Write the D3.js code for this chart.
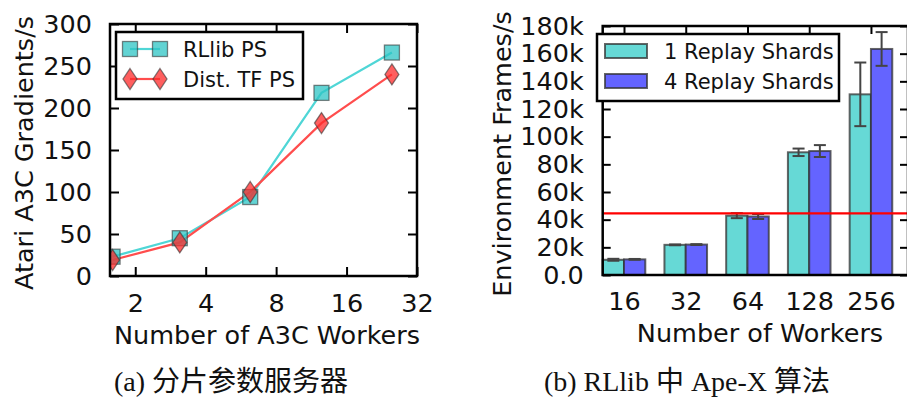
<!DOCTYPE html>
<html><head><meta charset="utf-8">
<script src="https://cdn.jsdelivr.net/npm/d3@7"></script>
<style>
body{margin:0;background:#fff;}
svg{display:block;}
text{font-family:"DejaVu Sans",sans-serif;fill:#111;}
.cap{font-family:"Liberation Serif","Noto Sans CJK SC",serif;}
</style></head><body>
<svg id="c" width="907" height="399"></svg>
<script>
// ---- Data: (a) sharded parameter server ----
const a3cWorkers = [1.6, 3.1, 6.2, 12.5, 25];
const rllibPS = [23, 45, 94, 218, 266];
const distTFPS = [19, 40, 100, 182, 240];
const aXTicks = [2, 4, 8, 16, 32];
const aYTicks = [0, 50, 100, 150, 200, 250, 300];
const aSeriesNames = ["RLlib PS", "Dist. TF PS"];

// ---- Data: (b) Ape-X in RLlib ----
const workerCounts = ["16", "32", "64", "128", "256"];
const shards1 = [11000, 21800, 42900, 88700, 130600];
const shards1Err = [700, 300, 1800, 2700, 23000];
const shards4 = [11300, 22000, 42300, 89600, 163400];
const shards4Err = [300, 300, 1800, 4300, 12200];
const refLine = 44600;
const bYTicks = [0, 20000, 40000, 60000, 80000, 100000, 120000, 140000, 160000, 180000];
const bYTickLabels = ["0.0", "20k", "40k", "60k", "80k", "100k", "120k", "140k", "160k", "180k"];
const bSeriesNames = ["1 Replay Shards", "4 Replay Shards"];

const svg = d3.select("#c");
const FS = 25.5, LFS = 21;

// ================= (a) =================
const aL = 110, aR = 417, aT = 24, aB = 276;
const xa = d3.scaleLog().base(2).domain([1.56, 32]).range([aL, aR]);
const ya = d3.scaleLinear().domain([0, 300]).range([aB, aT]);
const ga = svg.append("g");

const tickLen = 9;
const axL = d3.axisLeft(ya).tickValues(aYTicks).tickSize(-tickLen).tickPadding(tickLen + 9).tickFormat(d3.format("d"));
const axR = d3.axisRight(ya).tickValues(aYTicks).tickSize(-tickLen).tickFormat("");
const axB = d3.axisBottom(xa).tickValues(aXTicks).tickSize(-tickLen).tickPadding(tickLen + 9).tickFormat(d3.format("d"));
const axT = d3.axisTop(xa).tickValues(aXTicks).tickSize(-tickLen).tickFormat("");
function styleAxis(g){
  g.select(".domain").remove();
  g.selectAll(".tick line").attr("stroke","#000").attr("stroke-width",2);
  g.selectAll(".tick text").attr("font-size",FS).attr("font-family","DejaVu Sans").attr("fill","#111");
}
ga.append("g").attr("transform",`translate(${aL},0)`).call(axL).call(styleAxis);
ga.append("g").attr("transform",`translate(${aR},0)`).call(axR).call(styleAxis);
ga.append("g").attr("transform",`translate(0,${aB})`).call(axB).call(styleAxis);
ga.append("g").attr("transform",`translate(0,${aT})`).call(axT).call(styleAxis);

const clipA = svg.append("defs").append("clipPath").attr("id","clipA");
clipA.append("rect").attr("x",aL).attr("y",aT).attr("width",aR-aL).attr("height",aB-aT);

const plotA = ga.append("g").attr("clip-path","url(#clipA)");
const cyanLine = "#4fd6d6", redLine = "#ff4d4d";
const lineGen = d3.line().x((d,i)=>xa(a3cWorkers[i])).y(d=>ya(d));
plotA.append("path").datum(rllibPS).attr("d",lineGen).attr("fill","none").attr("stroke",cyanLine).attr("stroke-width",2.2);
plotA.append("path").datum(distTFPS).attr("d",lineGen).attr("fill","none").attr("stroke",redLine).attr("stroke-width",2.2);

const sq = 15;
function drawSquare(g, cx, cy){
  g.append("rect").attr("x",cx-sq/2).attr("y",cy-sq/2).attr("width",sq).attr("height",sq)
   .attr("fill","#2ec4c4").attr("fill-opacity",0.75).attr("stroke","#333").attr("stroke-opacity",0.6).attr("stroke-width",1.3);
}
function drawDiamond(g, cx, cy){
  const w=7, h=10.5;
  g.append("path").attr("d",`M${cx},${cy-h}L${cx+w},${cy}L${cx},${cy+h}L${cx-w},${cy}Z`)
   .attr("fill","#ff2a2a").attr("fill-opacity",0.75).attr("stroke","#333").attr("stroke-opacity",0.6).attr("stroke-width",1.3);
}
rllibPS.forEach((v,i)=>drawSquare(plotA, xa(a3cWorkers[i]), ya(v)));
distTFPS.forEach((v,i)=>drawDiamond(plotA, xa(a3cWorkers[i]), ya(v)));

ga.append("rect").attr("x",aL).attr("y",aT).attr("width",aR-aL).attr("height",aB-aT)
  .attr("fill","none").attr("stroke","#000").attr("stroke-width",2.5);

// legend (a)
const lga = ga.append("g");
lga.append("rect").attr("x",116).attr("y",32).attr("width",187).attr("height",67)
  .attr("fill","#fff").attr("stroke","#000").attr("stroke-width",2.5);
[[49,"sq"],[79,"di"]].forEach(([yy,kind],i)=>{
  lga.append("line").attr("x1",130).attr("x2",160).attr("y1",yy).attr("y2",yy)
    .attr("stroke", i===0?cyanLine:redLine).attr("stroke-width",2.2);
  if(kind==="sq"){drawSquare(lga,130,yy);drawSquare(lga,160,yy);}
  else {drawDiamond(lga,130,yy);drawDiamond(lga,160,yy);}
  lga.append("text").attr("x",183).attr("y",yy+7.5).attr("font-size",LFS).text(aSeriesNames[i]);
});

ga.append("text").attr("x",267).attr("y",344).attr("text-anchor","middle").attr("font-size",FS).text("Number of A3C Workers");
ga.append("text").attr("transform","translate(33,153) rotate(-90)").attr("text-anchor","middle").attr("font-size",FS).text("Atari A3C Gradients/s");

// ================= (b) =================
const bL = 602.7, bR = 908, bT = 26, bB = 275;
const barW = 0.345;
const xb = d3.scaleLinear().domain([-barW, 4.6]).range([bL, bR]);
const yb = d3.scaleLinear().domain([0, 180000]).range([bB, bT]);
const gb = svg.append("g");
const tl2 = 8;
gb.append("g").attr("transform",`translate(${bL},0)`)
  .call(d3.axisLeft(yb).tickValues(bYTicks).tickSize(-tl2).tickPadding(tl2+11).tickFormat((d,i)=>bYTickLabels[i])).call(styleAxis);
gb.append("g").attr("transform",`translate(${bR},0)`)
  .call(d3.axisRight(yb).tickValues(bYTicks).tickSize(-tl2).tickFormat("")).call(styleAxis);
const idx = workerCounts.map((d,i)=>i);
gb.append("g").attr("transform",`translate(0,${bB})`)
  .call(d3.axisBottom(xb).tickValues(idx).tickSize(-tl2).tickPadding(tl2+9).tickFormat(i=>workerCounts[i])).call(styleAxis);
gb.append("g").attr("transform",`translate(0,${bT})`)
  .call(d3.axisTop(xb).tickValues(idx).tickSize(-tl2).tickFormat("")).call(styleAxis);

const col1 = "#66d9d6", col4 = "#6464ff";
const bars = gb.append("g");
function bar(i, v, off, col){
  const x0 = xb(i + off), x1 = xb(i + off + barW);
  bars.append("rect").attr("x",x0).attr("y",yb(v)).attr("width",x1-x0).attr("height",bB-yb(v))
    .attr("fill",col).attr("stroke","#333").attr("stroke-opacity",0.75).attr("stroke-width",2);
}
shards1.forEach((v,i)=>bar(i,v,-barW,col1));
shards4.forEach((v,i)=>bar(i,v,0,col4));
function errbar(i, v, e, off){
  const cx = xb(i + off + barW/2), cw = 6;
  const g = bars.append("g").attr("stroke","#444").attr("stroke-width",2);
  g.append("line").attr("x1",cx).attr("x2",cx).attr("y1",yb(v-e)).attr("y2",yb(v+e));
  g.append("line").attr("x1",cx-cw).attr("x2",cx+cw).attr("y1",yb(v-e)).attr("y2",yb(v-e));
  g.append("line").attr("x1",cx-cw).attr("x2",cx+cw).attr("y1",yb(v+e)).attr("y2",yb(v+e));
}
shards1.forEach((v,i)=>errbar(i,v,shards1Err[i],-barW));
shards4.forEach((v,i)=>errbar(i,v,shards4Err[i],0));

gb.append("line").attr("x1",bL).attr("x2",bR).attr("y1",yb(refLine)).attr("y2",yb(refLine))
  .attr("stroke","#ff0000").attr("stroke-width",2.2);

gb.append("rect").attr("x",bL).attr("y",bT).attr("width",bR-bL).attr("height",bB-bT)
  .attr("fill","none").attr("stroke","#000").attr("stroke-width",2.5);

// legend (b)
const lgb = gb.append("g");
lgb.append("rect").attr("x",597).attr("y",34).attr("width",242).attr("height",67)
  .attr("fill","#fff").attr("stroke","#000").attr("stroke-width",2.5);
[[44,col1],[74,col4]].forEach(([yy,col],i)=>{
  lgb.append("rect").attr("x",605).attr("y",yy).attr("width",42).attr("height",14)
    .attr("fill",col).attr("stroke","#333").attr("stroke-opacity",0.75).attr("stroke-width",2);
  lgb.append("text").attr("x",664).attr("y",yy+14.5).attr("font-size",LFS).text(bSeriesNames[i]);
});

gb.append("text").attr("x",760).attr("y",342).attr("text-anchor","middle").attr("font-size",FS).text("Number of Workers");
gb.append("text").attr("transform","translate(511,154) rotate(-90)").attr("text-anchor","middle").attr("font-size",FS).text("Environment Frames/s");

// captions
svg.append("text").attr("class","cap").attr("x",231).attr("y",391).attr("text-anchor","middle").attr("font-size",28).text("(a) 分片参数服务器");
svg.append("text").attr("class","cap").attr("x",687).attr("y",391).attr("text-anchor","middle").attr("font-size",28).text("(b) RLlib 中 Ape-X 算法");
</script></body></html>
